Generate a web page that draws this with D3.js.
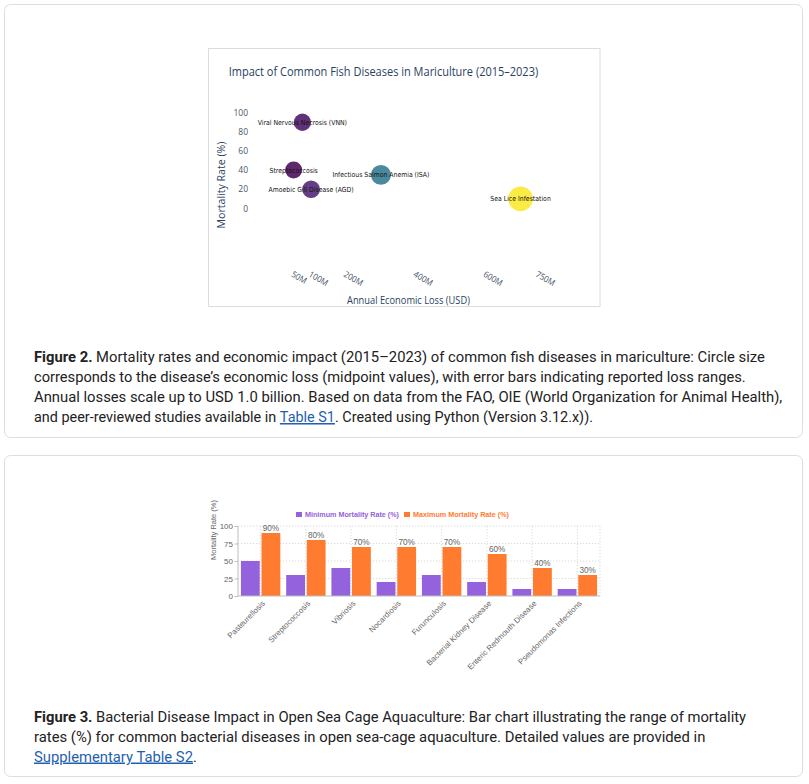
<!DOCTYPE html>
<html><head><meta charset="utf-8">
<script src="https://cdn.jsdelivr.net/npm/d3@7"></script>
<style>html,body{margin:0;padding:0;background:#fff;} svg{display:block}</style>
</head><body>
<svg id="page" width="809" height="784"></svg>
<script>
// ---------- Figure 2 data (bubble chart) ----------
const diseases = ["Viral Nervous Necrosis (VNN)", "Streptococcosis", "Amoebic Gill Disease (AGD)", "Infectious Salmon Anemia (ISA)", "Sea Lice Infestation"];
const mortality = [90, 40, 20, 35, 10];            // %
const economicLoss = [75, 50, 100, 300, 700];      // million USD
const lossTicks = [50, 100, 200, 400, 600, 750];
const mortalityTicks = [0, 20, 40, 60, 80, 100];
const fig2Title = "Impact of Common Fish Diseases in Mariculture (2015–2023)";
const fig2XTitle = "Annual Economic Loss (USD)";
const fig2YTitle = "Mortality Rate (%)";

// ---------- Figure 3 data (grouped bars) ----------
const bacterialDiseases = ["Pasteurellosis", "Streptococcosis", "Vibriosis", "Nocardiosis", "Furunculosis", "Bacterial Kidney Disease", "Enteric Redmouth Disease", "Pseudomonas Infections"];
const minMortality = [50, 30, 40, 20, 30, 20, 10, 10];
const maxMortality = [90, 80, 70, 70, 70, 60, 40, 30];
const seriesNames = ["Minimum Mortality Rate (%)", "Maximum Mortality Rate (%)"];
const rateTicks = [0, 25, 50, 75, 100];
const fig3YTitle = "Mortality Rate (%)";

// ---------- captions ----------
const caption2 = [
  [{t:"Figure 2.", b:true}, {t:" Mortality rates and economic impact (2015–2023) of common fish diseases in mariculture: Circle size"}],
  [{t:"corresponds to the disease’s economic loss (midpoint values), with error bars indicating reported loss ranges."}],
  [{t:"Annual losses scale up to USD 1.0 billion. Based on data from the FAO, OIE (World Organization for Animal Health),"}],
  [{t:"and peer-reviewed studies available in "}, {t:"Table S1", link:true}, {t:". Created using Python (Version 3.12.x))."}]
];
const caption3 = [
  [{t:"Figure 3.", b:true}, {t:" Bacterial Disease Impact in Open Sea Cage Aquaculture: Bar chart illustrating the range of mortality"}],
  [{t:"rates (%) for common bacterial diseases in open sea-cage aquaculture. Detailed values are provided in"}],
  [{t:"Supplementary Table S2", link:true}, {t:"."}]
];

const svg = d3.select("#page");

// squeeze a text horizontally to a target width, keeping its anchor point
function fitWidth(sel, x, y, target, anchor, extra) {
  const w = sel.node().getComputedTextLength();
  const k = target / w;
  sel.attr("x", 0).attr("y", 0)
     .attr("transform", `translate(${x},${y}) ${extra || ""} scale(${k},1)`);
  if (anchor) sel.attr("text-anchor", anchor);
}

// cards
svg.append("rect").attr("x",4.5).attr("y",4.5).attr("width",798).attr("height",433).attr("rx",6)
  .attr("fill","#fff").attr("stroke","#dedede");
svg.append("rect").attr("x",4.5).attr("y",455.5).attr("width",798).attr("height",321).attr("rx",6)
  .attr("fill","#fff").attr("stroke","#dedede");

// ================= Figure 2 =================
const f2 = svg.append("g");
f2.append("rect").attr("x",208.5).attr("y",48.5).attr("width",391.5).attr("height",258)
  .attr("fill","#fff").attr("stroke","#dcdcdc");

const xLoss = d3.scaleLinear().domain([0, 750]).range([276.2, 538]);
const yMort = d3.scaleLinear().domain([0, 100]).range([208.3, 112.7]);
const rLoss = d3.scaleLinear().domain(d3.extent(economicLoss)).range([8.5, 12.3]);
const cLoss = d3.scaleSequential(d3.interpolateViridis).domain(d3.extent(economicLoss));

const t2 = f2.append("text").text(fig2Title)
  .attr("font-family","Open Sans").attr("font-size",12).attr("fill","#2a3f5f");
fitWidth(t2, 228.7, 76, 310, "start");

const yAx2 = f2.append("g").attr("transform","translate(252,0)")
  .call(d3.axisLeft(yMort).tickValues(mortalityTicks).tickSize(0).tickPadding(4));
yAx2.select(".domain").remove();
yAx2.selectAll("text").attr("font-family","Open Sans").attr("font-size",8.5).attr("fill","#4a5568");

const xAx2 = f2.append("g").attr("transform","translate(0,268)")
  .call(d3.axisBottom(xLoss).tickValues(lossTicks).tickFormat(d => d + "M").tickSize(0));
xAx2.select(".domain").remove();
xAx2.selectAll("text").attr("x",0).attr("y",0).attr("dy",0)
  .attr("text-anchor","start").attr("transform","translate(-3.5,8) rotate(30) scale(0.92,1)")
  .attr("font-family","Open Sans").attr("font-size",8.6).attr("fill","#4a5568");

const xt2 = f2.append("text").text(fig2XTitle)
  .attr("font-family","Open Sans").attr("font-size",11).attr("fill","#2a3f5f");
fitWidth(xt2, 408.5, 304, 123, "middle");
const yt2 = f2.append("text").text(fig2YTitle)
  .attr("font-family","Open Sans").attr("font-size",11).attr("fill","#2a3f5f");
fitWidth(yt2, 225, 185, 87, "middle", "rotate(-90)");

const pts = diseases.map((d,i) => ({name:d, m:mortality[i], v:economicLoss[i]}));
f2.append("g").selectAll("circle").data(pts).join("circle")
  .attr("cx", d => xLoss(d.v)).attr("cy", d => yMort(d.m)).attr("r", d => rLoss(d.v))
  .attr("fill", d => cLoss(d.v)).attr("fill-opacity",0.85);
f2.append("g").selectAll("text").data(pts).join("text")
  .attr("dy","0.35em").attr("text-anchor","middle").text(d => d.name)
  .attr("transform", d => `translate(${xLoss(d.v)},${yMort(d.m)}) scale(0.88,1)`)
  .attr("font-family","DejaVu Sans, Verdana, sans-serif").attr("font-size",7).attr("fill","#111");

// ================= Figure 3 =================
const f3 = svg.append("g");
const xCat = d3.scaleBand().domain(bacterialDiseases).range([238, 600]);
const xSer = d3.scaleBand().domain(seriesNames).range([0, xCat.bandwidth()]).paddingInner(0.087).paddingOuter(0.142);
const yRate = d3.scaleLinear().domain([0, 100]).range([596, 526]);
const serColor = d3.scaleOrdinal().domain(seriesNames).range(["#9462dc", "#ff7b2f"]);

// grid
f3.append("g").selectAll("line").data(rateTicks.filter(d => d > 0)).join("line")
  .attr("x1",238).attr("x2",600).attr("y1", d => yRate(d)).attr("y2", d => yRate(d))
  .attr("stroke","#cfcfcf").attr("stroke-width",0.8).attr("stroke-dasharray","1.2,1.8");
f3.append("g").selectAll("line").data(bacterialDiseases).join("line")
  .attr("x1", d => xCat(d) + xCat.bandwidth()/2).attr("x2", d => xCat(d) + xCat.bandwidth()/2)
  .attr("y1", yRate(100)).attr("y2", yRate(0))
  .attr("stroke","#cfcfcf").attr("stroke-width",0.8).attr("stroke-dasharray","1.2,1.8");
f3.append("line").attr("x1",600).attr("x2",600).attr("y1",yRate(100)).attr("y2",yRate(0))
  .attr("stroke","#cfcfcf").attr("stroke-width",0.8).attr("stroke-dasharray","1.2,1.8");

// bars
const rows = bacterialDiseases.map((d,i) => ({cat:d, vals:[{s:seriesNames[0], v:minMortality[i]}, {s:seriesNames[1], v:maxMortality[i]}]}));
const grp = f3.append("g").selectAll("g").data(rows).join("g")
  .attr("transform", d => `translate(${xCat(d.cat)},0)`);
grp.selectAll("rect").data(d => d.vals).join("rect")
  .attr("x", d => xSer(d.s)).attr("width", xSer.bandwidth())
  .attr("y", d => yRate(d.v)).attr("height", d => yRate(0) - yRate(d.v))
  .attr("fill", d => serColor(d.s));

// data labels on max bars
f3.append("g").selectAll("text").data(rows).join("text")
  .attr("x", d => xCat(d.cat) + xSer(seriesNames[1]) + xSer.bandwidth()/2)
  .attr("y", (d,i) => yRate(maxMortality[i]) - 2.5)
  .attr("text-anchor","middle").text((d,i) => maxMortality[i] + "%")
  .attr("font-family","Liberation Sans, Arial, sans-serif").attr("font-size",8.2).attr("fill","#666");

// axes
const yAx3 = f3.append("g").attr("transform","translate(238,0)")
  .call(d3.axisLeft(yRate).tickValues(rateTicks).tickSize(3.5).tickPadding(1.5));
yAx3.select(".domain").attr("stroke","#bdbdbd").attr("d","M0,526V596");
yAx3.selectAll(".tick line").attr("stroke","#bdbdbd");
yAx3.selectAll("text").attr("font-family","Liberation Sans, Arial, sans-serif").attr("font-size",8).attr("fill","#666");

const xAx3 = f3.append("g").attr("transform","translate(0,596)")
  .call(d3.axisBottom(xCat).tickSize(0));
xAx3.select(".domain").attr("stroke","#bdbdbd").attr("d","M238,0H600");
xAx3.selectAll("text").attr("x",0).attr("y",0).attr("dy","0.35em")
  .attr("text-anchor","end").attr("transform","translate(3,6) rotate(-45)")
  .attr("font-family","Liberation Sans, Arial, sans-serif").attr("font-size",7.9).attr("fill","#666");

const yt3 = f3.append("text").text(fig3YTitle)
  .attr("font-family","Liberation Sans, Arial, sans-serif").attr("font-size",8).attr("fill","#666");
fitWidth(yt3, 215.5, 530, 60, "middle", "rotate(-90)");

// legend
const legX = [296, 404], legW = [94, 96];
const leg = f3.append("g").selectAll("g").data(seriesNames).join("g")
  .attr("transform", (d,i) => `translate(${legX[i]},514.5)`);
leg.append("rect").attr("x",0).attr("y",-2.5).attr("width",6).attr("height",5).attr("fill", d => serColor(d));
leg.each(function(d, i) {
  const t = d3.select(this).append("text").attr("dy","0.35em").text(d)
    .attr("font-family","Liberation Sans, Arial, sans-serif").attr("font-weight",700).attr("font-size",7.8)
    .attr("fill", serColor(d));
  fitWidth(t, 9, 0, legW[i], "start");
});

// ================= captions =================
function caption(lines, y0, widths) {
  lines.forEach((parts, i) => {
    const t = svg.append("text")
      .attr("font-family","Roboto, sans-serif").attr("font-size",15).attr("fill","#222");
    parts.forEach(p => {
      const ts = t.append("tspan").text(p.t);
      if (p.b) ts.attr("font-weight",700);
      if (p.link) ts.attr("fill","#1f5fb0").style("text-decoration","underline");
    });
    fitWidth(t, 34, y0 + i*20, widths[i], "start");
  });
}
caption(caption2, 362, [732, 712, 749, 559]);
caption(caption3, 721.5, [713, 672, 163]);
</script>
</body></html>
